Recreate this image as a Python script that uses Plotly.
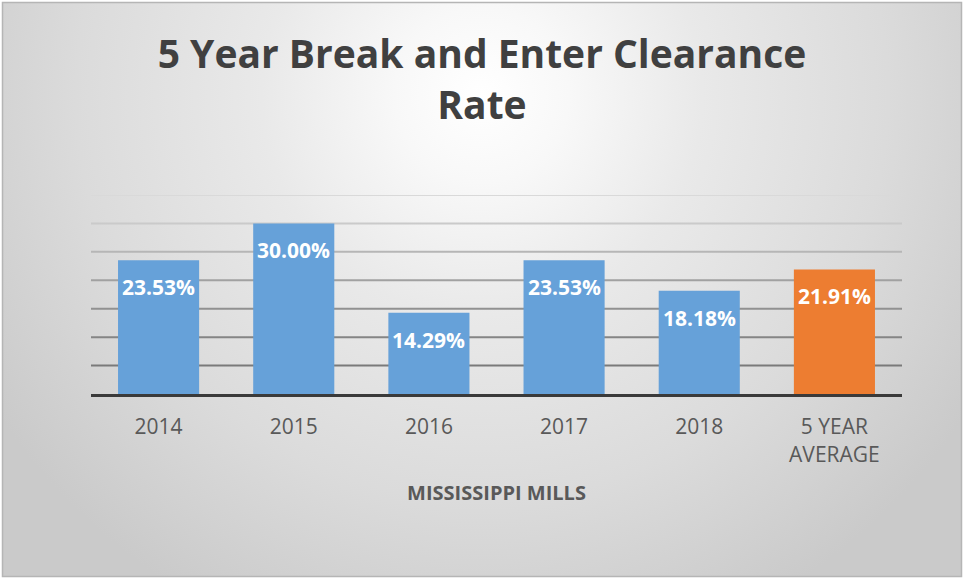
import base64
import plotly.graph_objects as go

categories = ["2014", "2015", "2016", "2017", "2018", "5 YEAR<br>AVERAGE"]
values = [23.53, 30.00, 14.29, 23.53, 18.18, 21.91]
labels = ["23.53%", "30.00%", "14.29%", "23.53%", "18.18%", "21.91%"]
bar_colors = ["#66A1D9", "#66A1D9", "#66A1D9", "#66A1D9", "#66A1D9", "#ED7D31"]
grid_vals = [5, 10, 15, 20, 25, 30, 35]
grid_colors = ["#7a7a7a", "#858585", "#919191", "#a1a1a1", "#b6b6b6", "#cacaca", "#d9d9d9"]

W, H = 964, 579
ML, MR, MT, MB = 91, 62, 195, 185
PW, PH = W - ML - MR, H - MT - MB

svg = f'''<svg xmlns="http://www.w3.org/2000/svg" width="{W}" height="{H}" viewBox="0 0 {W} {H}">
<defs><radialGradient id="g" gradientUnits="userSpaceOnUse" cx="482" cy="95" r="580">
<stop offset="0" stop-color="#ffffff"/>
<stop offset="0.15" stop-color="#f8f8f8"/>
<stop offset="0.38" stop-color="#e9e9e9"/>
<stop offset="0.7" stop-color="#dbdbdb"/>
<stop offset="1" stop-color="#cacaca"/>
</radialGradient></defs>
<rect x="0" y="0" width="{W}" height="{H}" fill="#ffffff"/>
<rect x="2.5" y="2.5" width="{W-5}" height="{H-5}" fill="url(#g)" stroke="#b5b5b5" stroke-width="1.5"/>
</svg>'''
src = "data:image/svg+xml;base64," + base64.b64encode(svg.encode()).decode()

FONT = "Open Sans"

fig = go.Figure()
fig.add_trace(go.Bar(
    x=categories, y=values, marker=dict(color=bar_colors, line=dict(width=0)),
    hoverinfo="skip", showlegend=False,
))

# annotations positioned by category index on the category axis
for i, (v, t) in enumerate(zip(values, labels)):
    fig.add_annotation(x=i, y=v, xref="x", yref="y", text=t, showarrow=False, yshift=-27,
                       font=dict(family=FONT, size=21, color="#ffffff", weight="bold"))

for gv, gc in zip(grid_vals, grid_colors):
    fig.add_shape(type="line", xref="paper", x0=0, x1=1, yref="y", y0=gv, y1=gv,
                  line=dict(color=gc, width=2), layer="below")

fig.add_layout_image(dict(
    source=src, xref="paper", yref="paper",
    x=-ML / PW, y=1 + MT / PH, sizex=W / PW, sizey=H / PH,
    sizing="stretch", xanchor="left", yanchor="top", layer="below",
))

fig.update_layout(
    width=W, height=H,
    margin=dict(l=ML, r=MR, t=MT, b=MB, autoexpand=False),
    paper_bgcolor="#e0e0e0", plot_bgcolor="rgba(0,0,0,0)",
    bargap=0.4,
    title=dict(text="<b>5 Year Break and Enter Clearance<br>Rate</b>",
               x=0.5, xref="container", xanchor="center",
               y=1 - 68 / H, yref="container", yanchor="top",
               font=dict(family=FONT, size=39, color="#404040")),
    xaxis=dict(type="category", categoryorder="array", categoryarray=categories,
               range=[-0.5, len(categories) - 0.5],
               showline=True, linecolor="#3a3a3a", linewidth=3, ticks="",
               ticklabelstandoff=12,
               tickfont=dict(family=FONT, size=21, color="#595959"),
               title=dict(text="<b>MISSISSIPPI MILLS</b>", standoff=20,
                          font=dict(family=FONT, size=20, color="#595959")),
               fixedrange=True),
    yaxis=dict(range=[0, 35], showgrid=False, zeroline=False, showticklabels=False,
               fixedrange=True),
    font=dict(family=FONT),
)

fig.write_html("out.html", config={"displayModeBar": False},
               post_script="document.body.style.margin='0';document.body.style.padding='0';")
